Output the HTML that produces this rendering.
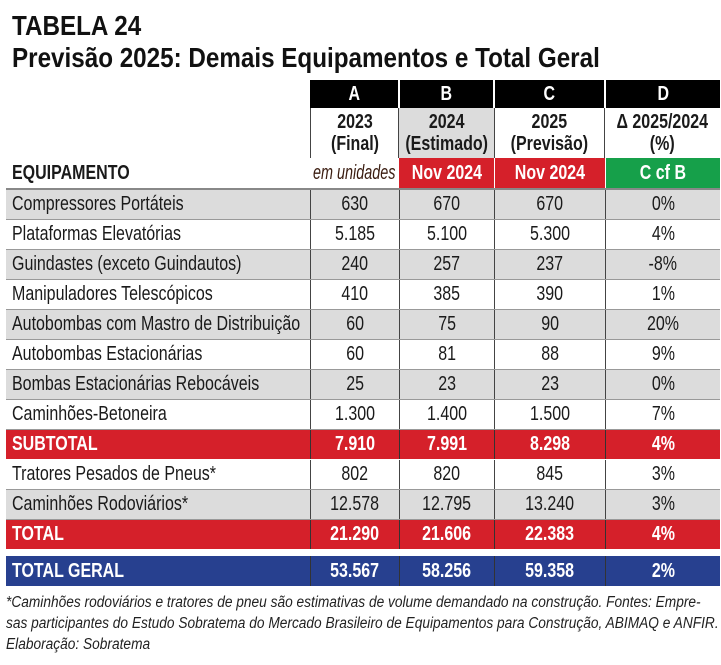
<!DOCTYPE html>
<html><head><meta charset="utf-8">
<style>
body{margin:0;background:#fff;width:721px;height:665px;overflow:hidden;position:relative;font-family:"Liberation Sans",sans-serif;color:#1a1a1a}
.t{position:absolute;left:12px;font-weight:bold;font-size:28px;line-height:28px;transform:scaleX(.865);transform-origin:left;white-space:nowrap;color:#111}
.row{position:absolute;left:6px;width:714px;height:30px}
.c{position:absolute;top:0;height:100%;display:flex;align-items:center;justify-content:center;box-sizing:border-box}
.n{display:inline-block;transform:scaleX(.8);white-space:nowrap;font-size:20px}
.lab{justify-content:flex-start;padding-left:6px}
.lab .n{transform-origin:left}
.b .n{font-weight:bold}
.g{background:#dcdcdc}
.red{background:#d5202a;color:#fff}
.blue{background:#27408f;color:#fff}
.vl{border-left:1.5px solid #444}
.foot{position:absolute;left:6px;font-style:italic;font-size:15.5px;transform:scaleX(.885);transform-origin:left;white-space:nowrap;color:#222}
</style></head><body>
<div class="t" style="top:12px">TABELA 24</div>
<div class="t" style="top:44px">Previsão 2025: Demais Equipamentos e Total Geral</div>

<div>
<div class="c" style="left:310px;top:80px;width:88px;height:28px;background:#000;color:#fff"><span class="n" style="font-weight:bold">A</span></div>
<div class="c" style="left:400px;top:80px;width:93px;height:28px;background:#000;color:#fff"><span class="n" style="font-weight:bold">B</span></div>
<div class="c" style="left:495px;top:80px;width:109px;height:28px;background:#000;color:#fff"><span class="n" style="font-weight:bold">C</span></div>
<div class="c" style="left:606px;top:80px;width:114px;height:28px;background:#000;color:#fff"><span class="n" style="font-weight:bold">D</span></div>
</div>
<div>
<div class="c" style="left:310px;top:108px;width:89px;height:50px;border-left:1.5px solid #444;border-right:1.5px solid #444;text-align:center"><span class="n" style="font-weight:bold;line-height:22px">2023<br>(Final)</span></div>
<div class="c g" style="left:399px;top:108px;width:95px;height:50px;text-align:center"><span class="n" style="font-weight:bold;line-height:22px">2024<br>(Estimado)</span></div>
<div class="c" style="left:494px;top:108px;width:111px;height:50px;border-left:1.5px solid #444;border-right:1.5px solid #444;text-align:center"><span class="n" style="font-weight:bold;line-height:22px">2025<br>(Previsão)</span></div>
<div class="c" style="left:605px;top:108px;width:115px;height:50px;text-align:center"><span class="n" style="font-weight:bold;line-height:22px">Δ 2025/2024<br>(%)</span></div>
</div>
<div class="row" style="top:158px">
<div class="c lab" style="left:0;width:304px"><span class="n" style="font-weight:bold">EQUIPAMENTO</span></div>
<div class="c" style="left:304px;width:89px;color:#3a1c10"><span class="n" style="font-style:italic;transform:scaleX(.72)">em unidades</span></div>
<div class="c red" style="left:393px;width:95px"><span class="n" style="font-weight:bold">Nov 2024</span></div>
<div class="c red" style="left:488px;width:111px;border-left:1.5px solid #fff"><span class="n" style="font-weight:bold">Nov 2024</span></div>
<div class="c" style="left:599px;width:115px;background:#16a04a;color:#fff;border-left:1.5px solid #fff"><span class="n" style="font-weight:bold">C cf B</span></div>
</div>
<div style="position:absolute;left:6px;top:188px;width:714px;height:1.5px;background:#888"></div>

<div id="rows"></div>
<div class="foot" style="top:594px">*Caminhões rodoviários e tratores de pneu são estimativas de volume demandado na construção. Fontes: Empre-</div>
<div class="foot" style="top:615px">sas participantes do Estudo Sobratema do Mercado Brasileiro de Equipamentos para Construção, ABIMAQ e ANFIR.</div>
<div class="foot" style="top:636px">Elaboração: Sobratema</div>

<script>
const labels=["Compressores Portáteis","Plataformas Elevatórias","Guindastes (exceto Guindautos)","Manipuladores Telescópicos","Autobombas com Mastro de Distribuição","Autobombas Estacionárias","Bombas Estacionárias Rebocáveis","Caminhões-Betoneira","SUBTOTAL","Tratores Pesados de Pneus*","Caminhões Rodoviários*","TOTAL","TOTAL GERAL"];
const colA=["630","5.185","240","410","60","60","25","1.300","7.910","802","12.578","21.290","53.567"];
const colB=["670","5.100","257","385","75","81","23","1.400","7.991","820","12.795","21.606","58.256"];
const colC=["670","5.300","237","390","90","88","23","1.500","8.298","845","13.240","22.383","59.358"];
const colD=["0%","4%","-8%","1%","20%","9%","0%","7%","4%","3%","3%","4%","2%"];
const styles=["g","","g","","g","","g","","red","","g","red","blue"];
const host=document.getElementById('rows');
const lefts=[0,304,393,488,599],widths=[304,89,95,111,115];
labels.forEach((lab,i)=>{
  const top=190+i*30+(i===12?6:0);
  const r=document.createElement('div');
  
  
  r.className='row '+styles[i]+(styles[i]==='red'||styles[i]==='blue'?' b':'');
  r.style.top=top+'px';
  r.style.height=(i===12?30:29)+'px';
  if(styles[i]!=='red'&&styles[i]!=='blue')r.style.borderBottom='1.5px solid #999';
  const vals=[lab,colA[i],colB[i],colC[i],colD[i]];
  vals.forEach((v,j)=>{
    const c=document.createElement('div');
    
    
    c.className='c'+(j===0?' lab':'')+(j>0?' vl':'');
    if(styles[i]==='red'||styles[i]==='blue')c.style.borderLeftColor='#333';
    c.style.left=lefts[j]+'px';c.style.width=widths[j]+'px';
    const s=document.createElement('span');s.className='n';s.textContent=v;
    c.appendChild(s);r.appendChild(c);
  });
  host.appendChild(r);
});
</script>
</body></html>
